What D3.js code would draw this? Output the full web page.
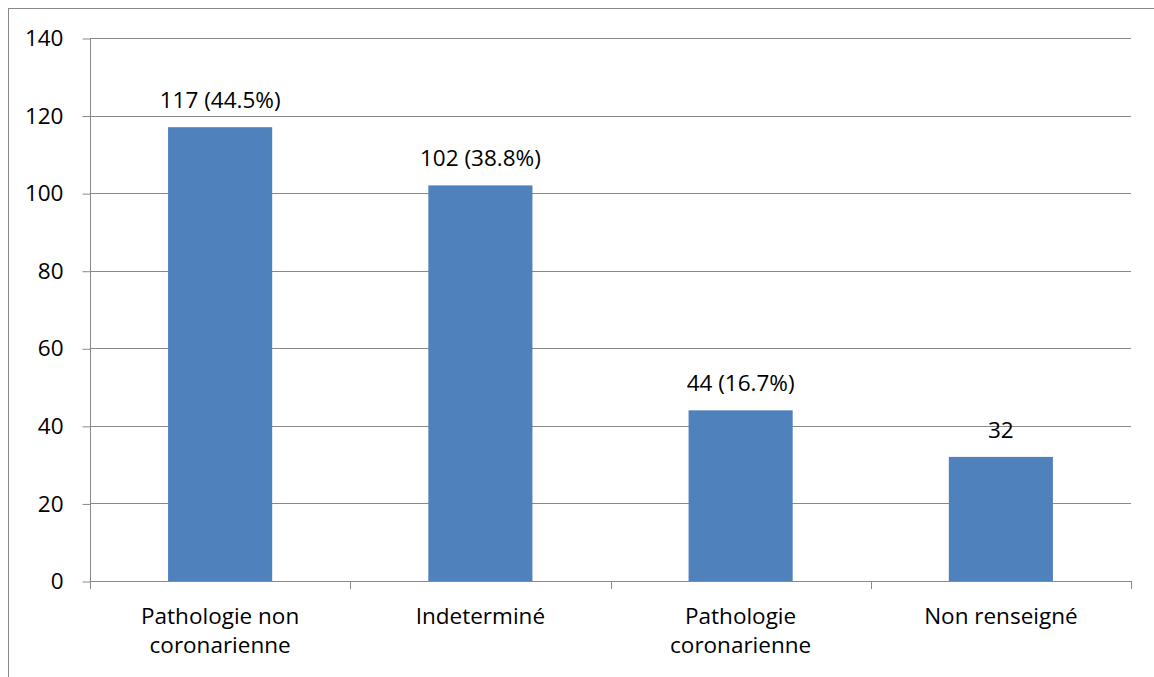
<!DOCTYPE html>
<html>
<head>
<meta charset="utf-8">
<script src="https://cdn.jsdelivr.net/npm/d3@7"></script>
<style>
  html, body { margin: 0; padding: 0; background: #fff; }
  svg { display: block; }
  text { font-family: "Open Sans", sans-serif; fill: #000; }
</style>
</head>
<body>
<svg id="chart" width="1154" height="677"></svg>
<script>
const categories = [["Pathologie non", "coronarienne"], ["Indeterminé"], ["Pathologie", "coronarienne"], ["Non renseigné"]];
const values = [117, 102, 44, 32];
const valueLabels = ["117 (44.5%)", "102 (38.8%)", "44 (16.7%)", "32"];
const yTicks = [0, 20, 40, 60, 80, 100, 120, 140];

const svg = d3.select("#chart");
const plotLeft = 90, plotRight = 1131, plotTop = 38, plotBottom = 581;
const gridColor = "#898989";
const fontSize = 22.5;

// outer chart border
svg.append("rect")
  .attr("x", 8.5).attr("y", 8.5)
  .attr("width", 1300).attr("height", 800)
  .attr("fill", "none").attr("stroke", gridColor).attr("stroke-width", 1);

const idx = categories.map((d, i) => i);
const x = d3.scaleBand().domain(idx).range([plotLeft, plotRight]).paddingInner(0.6).paddingOuter(0.3);
const xOuter = d3.scaleBand().domain(idx).range([plotLeft, plotRight]).padding(0);
const y = d3.scaleLinear().domain([0, 140]).range([plotBottom, plotTop]);

// gridlines
svg.append("g").selectAll("line").data(yTicks.filter(t => t > 0)).join("line")
  .attr("x1", plotLeft).attr("x2", plotRight)
  .attr("y1", d => Math.round(y(d)) + 0.5).attr("y2", d => Math.round(y(d)) + 0.5)
  .attr("stroke", gridColor).attr("stroke-width", 1);

// bars
svg.append("g").selectAll("rect").data(values).join("rect")
  .attr("x", (d, i) => x(i))
  .attr("width", x.bandwidth())
  .attr("y", d => y(d))
  .attr("height", d => y(0) - y(d))
  .attr("fill", "#4F81BD");

// y axis
const yAxis = d3.axisLeft(y).tickValues(yTicks).tickSize(8).tickPadding(19).tickFormat(d3.format("d"));
const gy = svg.append("g").attr("transform", `translate(${plotLeft + 0.5},0.5)`).call(yAxis);
gy.select(".domain").attr("stroke", gridColor).attr("d", `M0,${plotTop}V${plotBottom}`);
gy.selectAll(".tick line").attr("stroke", gridColor);
gy.selectAll(".tick text").attr("font-size", fontSize).attr("font-family", "'Open Sans', sans-serif").attr("fill", "#000");

// x axis line
svg.append("line")
  .attr("x1", plotLeft).attr("x2", plotRight + 1)
  .attr("y1", plotBottom + 0.5).attr("y2", plotBottom + 0.5)
  .attr("stroke", gridColor);

// x ticks at category boundaries
const boundaries = idx.map(i => xOuter(i)).concat([plotRight]);
svg.append("g").selectAll("line").data(boundaries).join("line")
  .attr("x1", d => Math.round(d) + 0.5).attr("x2", d => Math.round(d) + 0.5)
  .attr("y1", plotBottom).attr("y2", plotBottom + 8)
  .attr("stroke", gridColor);

// category labels
const cat = svg.append("g").selectAll("text").data(categories).join("text")
  .attr("text-anchor", "middle")
  .attr("font-size", fontSize)
  .attr("x", (d, i) => xOuter(i) + xOuter.bandwidth() / 2)
  .attr("y", 624);
cat.selectAll("tspan").data(d => d).join("tspan")
  .attr("x", function() { return d3.select(this.parentNode).attr("x"); })
  .attr("dy", (d, j) => j === 0 ? 0 : 29)
  .text(d => d);

// value labels
svg.append("g").selectAll("text").data(values).join("text")
  .attr("text-anchor", "middle")
  .attr("font-size", fontSize)
  .attr("x", (d, i) => x(i) + x.bandwidth() / 2)
  .attr("y", d => y(d) - 19)
  .text((d, i) => valueLabels[i]);
</script>
</body>
</html>
